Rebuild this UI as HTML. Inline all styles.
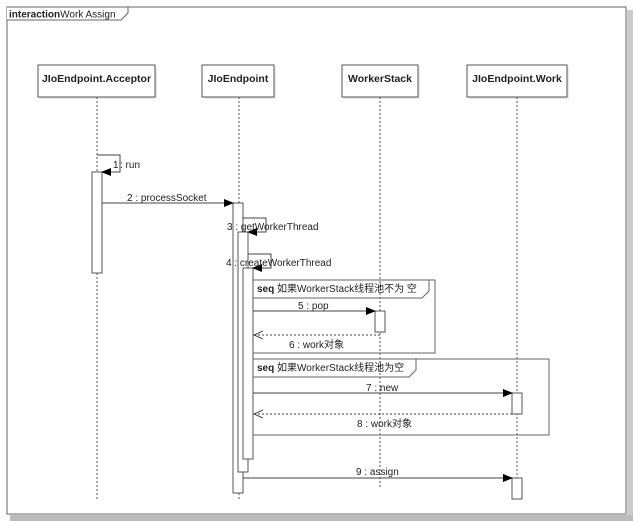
<!DOCTYPE html>
<html><head><meta charset="utf-8"><style>
html,body{margin:0;padding:0;background:#fff;}
svg{display:block;}
text{font-family:"Liberation Sans","Noto Sans CJK SC",sans-serif;font-size:10px;fill:#222;}
.b{font-weight:bold;font-size:10.5px;}
</style></head><body>
<svg width="637" height="526" viewBox="0 0 637 526" xmlns="http://www.w3.org/2000/svg">
<defs>
<marker id="f" markerWidth="10" markerHeight="8" refX="9" refY="4" orient="auto" markerUnits="userSpaceOnUse"><path d="M0,0 L10,4 L0,8 z" fill="#000"/></marker>
<marker id="o" markerWidth="10" markerHeight="10" refX="9" refY="5" orient="auto" markerUnits="userSpaceOnUse"><path d="M0,1 L9,5 L0,9" fill="none" stroke="#444"/></marker>
</defs>
<rect x="0" y="0" width="637" height="526" fill="#fff"/>
<rect x="627" y="10" width="6" height="508" fill="#ccc"/>
<rect x="10" y="515" width="623" height="6" fill="#bbb"/>
<rect x="7" y="7" width="619" height="507" fill="#fff" stroke="#666" stroke-width="1"/>
<path d="M7,7 H128 V13 L121,20 H7" fill="#fff" stroke="#666"/>
<text x="9" y="17.5"><tspan font-weight="bold">interaction</tspan>Work Assign</text>

<g fill="#e8e8e8"><rect x="40" y="67" width="117" height="32"/><rect x="204" y="67" width="72" height="32"/><rect x="344" y="67" width="76" height="32"/><rect x="469" y="67" width="100" height="32"/></g>
<g fill="#fff" stroke="#555"><rect x="38" y="65" width="117" height="32"/><rect x="202" y="65" width="72" height="32"/><rect x="342" y="65" width="76" height="32"/><rect x="467" y="65" width="100" height="32"/></g>
<text class="b" x="96.5" y="82" text-anchor="middle">JIoEndpoint.Acceptor</text>
<text class="b" x="238" y="82" text-anchor="middle">JIoEndpoint</text>
<text class="b" x="380" y="82" text-anchor="middle">WorkerStack</text>
<text class="b" x="517" y="82" text-anchor="middle">JIoEndpoint.Work</text>

<g stroke="#555" stroke-dasharray="2,2"><line x1="97" y1="97" x2="97" y2="500"/><line x1="239" y1="97" x2="239" y2="500"/><line x1="380" y1="97" x2="380" y2="487"/><line x1="517" y1="97" x2="517" y2="500"/></g>

<g fill="none" stroke="#666"><rect x="253" y="280" width="182" height="73"/><rect x="253" y="359" width="296" height="76"/>
<path d="M253,298 H422 L429,291 V280"/><path d="M253,377 H409 L416,370 V359"/></g>
<text x="257" y="292"><tspan font-weight="bold">seq</tspan> 如果WorkerStack线程池不为 空</text>
<text x="257" y="371"><tspan font-weight="bold">seq</tspan> 如果WorkerStack线程池为空</text>

<g fill="#fff" stroke="#555">
<rect x="92" y="172" width="10" height="101"/>
<rect x="233" y="203" width="10" height="290"/>
<rect x="238" y="232" width="10" height="240"/>
<rect x="243" y="268" width="10" height="191"/>
<rect x="375" y="311" width="10" height="21"/>
<rect x="512" y="393" width="10" height="21"/>
<rect x="512" y="478" width="10" height="21"/>
</g>

<g stroke="#444" fill="none">
<path d="M97,155 H120 V172 H102" marker-end="url(#f)"/>
<line x1="102" y1="203" x2="233" y2="203" marker-end="url(#f)"/>
<path d="M243,218 H266 V232 H248" marker-end="url(#f)"/>
<path d="M248,254 H271 V268 H253" marker-end="url(#f)"/>
<line x1="253" y1="311" x2="375" y2="311" marker-end="url(#f)"/>
<line x1="380" y1="335" x2="254" y2="335" stroke-dasharray="2,2" marker-end="url(#o)"/>
<line x1="253" y1="393" x2="512" y2="393" marker-end="url(#f)"/>
<line x1="512" y1="414" x2="254" y2="414" stroke-dasharray="2,2" marker-end="url(#o)"/>
<line x1="243" y1="478" x2="512" y2="478" marker-end="url(#f)"/>
</g>
<g>
<text x="113" y="168">1</text><text x="120" y="168">: run</text>
<text x="127" y="201">2 : processSocket</text>
<text x="227" y="230">3 : getWorkerThread</text>
<text x="226" y="266">4 : createWorkerThread</text>
<text x="298" y="309">5 : pop</text>
<text x="289" y="348">6 : work对象</text>
<text x="366" y="391">7 : new</text>
<text x="357" y="427">8 : work对象</text>
<text x="356" y="475">9 : assign</text>
</g>
</svg>
</body></html>
